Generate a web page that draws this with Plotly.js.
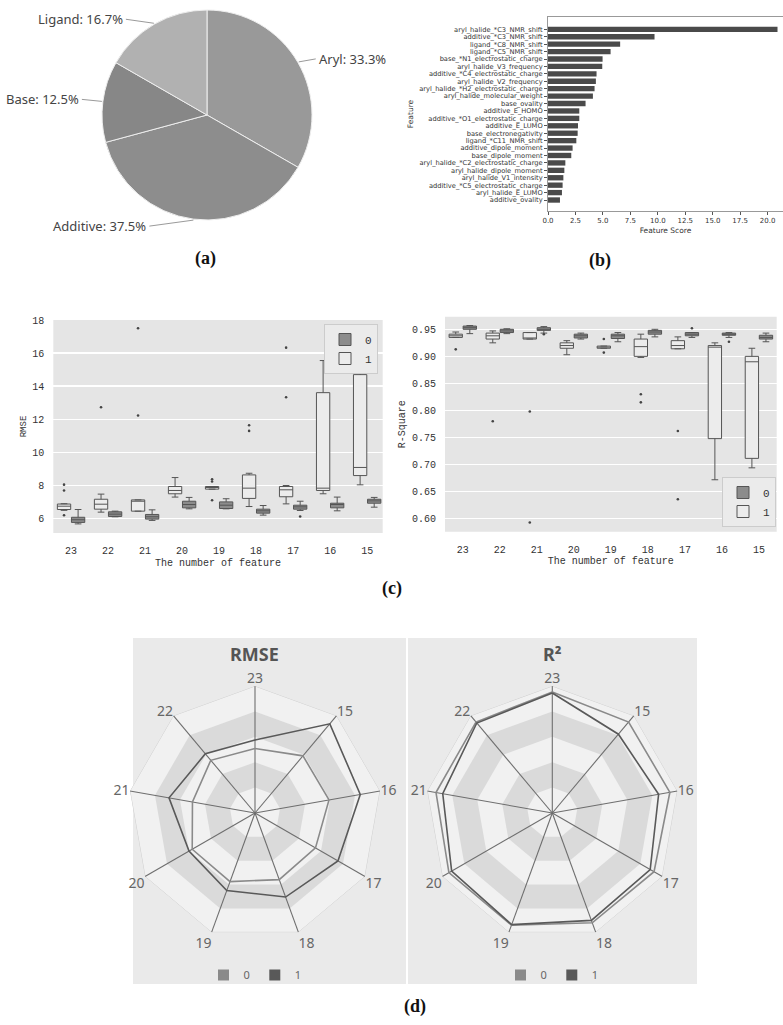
<!DOCTYPE html>
<html><head><meta charset="utf-8">
<script src="https://cdn.plot.ly/plotly-3.0.1.min.js"></script>
<style>html,body{margin:0;padding:0;background:#fff}#chart{width:783px;height:1025px}</style>
</head><body><div id="chart"></div>
<script>
// ---------------- DATA ----------------
const pieLabels = ['Aryl', 'Additive', 'Base', 'Ligand'];
const pieValues = [33.3, 37.5, 12.5, 16.7];

const barFeatures = [
  'aryl_halide_*C3_NMR_shift', 'additive_*C3_NMR_shift', 'ligand_*C8_NMR_shift', 'ligand_*C5_NMR_shift',
  'base_*N1_electrostatic_charge', 'aryl_halide_V3_frequency', 'additive_*C4_electrostatic_charge',
  'aryl_halide_V2_frequency', 'aryl_halide_*H2_electrostatic_charge', 'aryl_halide_molecular_weight',
  'base_ovality', 'additive_E_HOMO', 'additive_*O1_electrostatic_charge', 'additive_E_LUMO',
  'base_electronegativity', 'ligand_*C11_NMR_shift', 'additive_dipole_moment', 'base_dipole_moment',
  'aryl_halide_*C2_electrostatic_charge', 'aryl_halide_dipole_moment', 'aryl_halide_V1_intensity',
  'additive_*C5_electrostatic_charge', 'aryl_halide_E_LUMO', 'additive_ovality'
];
const barScores = [20.9, 9.7, 6.57, 5.7, 4.97, 4.94, 4.42, 4.36, 4.24, 4.09, 3.42, 2.85, 2.85, 2.73,
  2.7, 2.58, 2.24, 2.12, 1.58, 1.49, 1.4, 1.33, 1.27, 1.09];

const featureCounts = ['23', '22', '21', '20', '19', '18', '17', '16', '15'];
const seriesNames = ['0', '1'];

// RMSE box statistics, series "1"
const rmse1Q1  = [6.55, 6.57, 6.45, 7.50, 7.78, 7.22, 7.32, 7.70, 8.60];
const rmse1Med = [6.75, 6.87, 7.05, 7.70, 7.88, 7.84, 7.74, 7.84, 9.09];
const rmse1Q3  = [6.88, 7.17, 7.13, 7.94, 7.94, 8.64, 7.94, 13.61, 14.70];
const rmse1Lo  = [6.50, 6.39, 6.45, 7.30, 7.78, 6.73, 6.89, 7.50, 8.04];
const rmse1Hi  = [6.90, 7.48, 7.13, 8.48, 7.94, 8.74, 8.00, 15.55, 15.06];
const rmse1Out = [[8.05, 7.7, 6.2], [12.73], [17.5, 12.23], [], [8.38, 8.24, 7.11], [11.64, 11.3], [16.33, 13.33], [], []];
// RMSE box statistics, series "0"
const rmse0Q1  = [5.77, 6.13, 5.97, 6.65, 6.61, 6.33, 6.57, 6.65, 6.93];
const rmse0Med = [5.93, 6.27, 6.11, 6.85, 6.81, 6.47, 6.71, 6.85, 7.07];
const rmse0Q3  = [6.08, 6.41, 6.25, 7.05, 7.01, 6.57, 6.81, 6.93, 7.17];
const rmse0Lo  = [5.68, 6.11, 5.89, 6.59, 6.59, 6.21, 6.49, 6.47, 6.69];
const rmse0Hi  = [6.55, 6.45, 6.53, 7.28, 7.20, 6.79, 7.05, 7.30, 7.28];
const rmse0Out = [[], [], [], [], [], [], [6.13], [], []];

// R-square box statistics, series "1"
const r21Q1  = [0.935, 0.932, 0.932, 0.915, 0.915, 0.900, 0.914, 0.748, 0.7115];
const r21Med = [0.938, 0.938, 0.934, 0.920, 0.917, 0.918, 0.920, 0.917, 0.890];
const r21Q3  = [0.941, 0.943, 0.944, 0.925, 0.919, 0.932, 0.929, 0.920, 0.900];
const r21Lo  = [0.935, 0.925, 0.932, 0.903, 0.915, 0.898, 0.914, 0.672, 0.694];
const r21Hi  = [0.945, 0.947, 0.944, 0.929, 0.919, 0.941, 0.936, 0.925, 0.915];
const r21Out = [[0.913], [0.78], [0.798, 0.593], [], [0.932, 0.907], [0.83, 0.815], [0.762, 0.636], [], []];
// R-square box statistics, series "0"
const r20Q1  = [0.950, 0.944, 0.948, 0.934, 0.933, 0.941, 0.938, 0.939, 0.932];
const r20Med = [0.953, 0.947, 0.950, 0.938, 0.938, 0.945, 0.941, 0.940, 0.935];
const r20Q3  = [0.956, 0.950, 0.953, 0.941, 0.941, 0.948, 0.944, 0.943, 0.939];
const r20Lo  = [0.942, 0.942, 0.943, 0.932, 0.927, 0.936, 0.935, 0.935, 0.927];
const r20Hi  = [0.957, 0.951, 0.955, 0.943, 0.944, 0.950, 0.944, 0.944, 0.943];
const r20Out = [[], [], [0.941], [], [], [], [0.952], [0.927], []];

// Radar data
const radarCats = ['23', '15', '16', '17', '18', '19', '20', '21', '22'];
const rmseRadar0 = [6.1, 7.05, 7.1, 6.6, 6.7, 6.9, 6.85, 6.0, 6.5];
const rmseRadar1 = [6.9, 11.0, 10.1, 9.05, 8.45, 7.8, 7.2, 8.25, 7.3];
const r2Radar0 = [0.953, 0.935, 0.94, 0.925, 0.92, 0.94, 0.94, 0.93, 0.935];
const r2Radar1 = [0.945, 0.81, 0.85, 0.89, 0.90, 0.935, 0.915, 0.876, 0.925];
const rmseRadarMax = 12;
const r2RadarMax = 1;

// ---------------- LAYOUT HELPERS ----------------
const W = 783, H = 1025;
const px = x => x / W, py = y => 1 - y / H;
const mono = 'Liberation Mono, DejaVu Sans Mono, monospace';
const sans = 'Noto Sans, Open Sans, DejaVu Sans, sans-serif';
const serif = 'Liberation Serif, DejaVu Serif, serif';

const traces = [];
const shapes = [];
const annotations = [];

// ---------------- (a) PIE ----------------
const pieColors = ['#999999', '#8d8d8d', '#878787', '#b1b1b1'];
const pieCx = 207, pieCy = 115, pieR = 105;
traces.push({
  type: 'pie', labels: pieLabels, values: pieValues, sort: false, direction: 'clockwise', rotation: 0,
  textinfo: 'none', hoverinfo: 'label+percent', showlegend: false,
  marker: {colors: pieColors, line: {color: '#eeeeee', width: 1}},
  domain: {x: [px(pieCx - pieR), px(pieCx + pieR)], y: [py(pieCy + pieR), py(pieCy - pieR)]}
});
const leaderOffsets = [[17, -3], [-44, 6], [-20, -2], [-28, -4]];
const pieTotal = pieValues.reduce((a, b) => a + b, 0);
let cum = 0;
pieValues.forEach((v, i) => {
  const a = (cum + v / 2) / pieTotal * 2 * Math.PI;
  cum += v;
  const ex = pieCx + (pieR + 1) * Math.sin(a), ey = pieCy - (pieR + 1) * Math.cos(a);
  const [dx, dy] = leaderOffsets[i];
  const tx = ex + dx, ty = ey + dy;
  shapes.push({type: 'line', xref: 'paper', yref: 'paper', x0: px(ex), y0: py(ey), x1: px(tx), y1: py(ty),
    line: {color: '#9a9a9a', width: 1}});
  annotations.push({xref: 'paper', yref: 'paper', x: px(tx + (dx > 0 ? 1 : -1)), y: py(ty), showarrow: false,
    xanchor: dx > 0 ? 'left' : 'right', yanchor: 'middle',
    text: pieLabels[i] + ': ' + (v / pieTotal * 100).toFixed(1) + '%',
    font: {family: sans, size: 13, color: '#444'}});
});

// ---------------- (b) BAR ----------------
traces.push({
  type: 'bar', orientation: 'h', x: barScores, y: barFeatures, xaxis: 'x', yaxis: 'y',
  marker: {color: '#4a4a4a'}, width: 0.72, showlegend: false
});

// ---------------- (c) BOXES ----------------
const boxFill = {'0': '#8c8c8c', '1': '#ececec'};
function addBoxes(xa, ya, offset, q1, med, q3, lo, hi, outs, name, legend) {
  const xs = featureCounts.map((_, i) => i + offset);
  traces.push({
    type: 'box', x: xs, q1: q1, median: med, q3: q3, lowerfence: lo, upperfence: hi,
    width: 0.36, whiskerwidth: 0.5, boxpoints: false, name: name, legend: legend,
    legendrank: name === '0' ? 1 : 2, fillcolor: boxFill[name], line: {color: '#555', width: 1},
    xaxis: xa, yaxis: ya, hoverinfo: 'y'
  });
  const ox = [], oy = [];
  outs.forEach((arr, i) => arr.forEach(v => { ox.push(i + offset); oy.push(v); }));
  traces.push({type: 'scatter', mode: 'markers', x: ox, y: oy, xaxis: xa, yaxis: ya, showlegend: false,
    marker: {size: 2.6, color: '#444'}, hoverinfo: 'y'});
}
addBoxes('x2', 'y2', -0.19, rmse1Q1, rmse1Med, rmse1Q3, rmse1Lo, rmse1Hi, rmse1Out, '1', 'legend');
addBoxes('x2', 'y2', 0.19, rmse0Q1, rmse0Med, rmse0Q3, rmse0Lo, rmse0Hi, rmse0Out, '0', 'legend');
addBoxes('x3', 'y3', -0.19, r21Q1, r21Med, r21Q3, r21Lo, r21Hi, r21Out, '1', 'legend2');
addBoxes('x3', 'y3', 0.19, r20Q1, r20Med, r20Q3, r20Lo, r20Hi, r20Out, '0', 'legend2');

['x2', 'x3'].forEach((xa, k) => {
  shapes.push({type: 'rect', xref: xa + ' domain', yref: (k ? 'y3' : 'y2') + ' domain', x0: 0, x1: 1, y0: 0, y1: 1,
    fillcolor: '#e5e5e5', line: {width: 0}, layer: 'below'});
});

// ---------------- (d) RADARS ----------------
const radarColors = {'0': '#8a8a8a', '1': '#595959'};
const closeArr = a => a.concat([a[0]]);
function addRadar(subplot, maxV, s0, s1, legend) {
  const levels = [1, 0.8, 0.6, 0.4, 0.2];
  const bandColors = ['#f1f1f1', '#dadada', '#f1f1f1', '#dadada', '#f1f1f1'];
  levels.forEach((lv, j) => {
    traces.push({type: 'scatterpolar', subplot: subplot, mode: 'lines', fill: 'toself',
      theta: closeArr(radarCats), r: closeArr(radarCats.map(() => lv * maxV)),
      fillcolor: bandColors[j], line: {color: j === 0 ? '#cfcfcf' : bandColors[j], width: j === 0 ? 1 : 0},
      showlegend: false, hoverinfo: 'skip'});
  });
  const st = [], sr = [];
  radarCats.forEach(c => { st.push(c, c, null); sr.push(0, maxV, null); });
  traces.push({type: 'scatterpolar', subplot: subplot, mode: 'lines', theta: st, r: sr, connectgaps: false,
    line: {color: '#6e6e6e', width: 1.1}, showlegend: false, hoverinfo: 'skip'});
  [[s0, '0'], [s1, '1']].forEach(([s, nm]) => {
    traces.push({type: 'scatterpolar', subplot: subplot, mode: 'lines', theta: closeArr(radarCats), r: closeArr(s),
      line: {color: radarColors[nm], width: 1.6}, name: nm, showlegend: false});
  });
  seriesNames.forEach(nm => {
    traces.push({type: 'scatterpolar', subplot: subplot, mode: 'markers', theta: [radarCats[0]], r: [null],
      name: nm, legend: legend, marker: {symbol: 'square', size: 11, color: radarColors[nm]}, hoverinfo: 'skip'});
  });
}
addRadar('polar', rmseRadarMax, rmseRadar0, rmseRadar1, 'legend3');
addRadar('polar2', r2RadarMax, r2Radar0, r2Radar1, 'legend4');

shapes.push({type: 'rect', xref: 'paper', yref: 'paper', x0: px(133), x1: px(406), y0: py(984), y1: py(638),
  fillcolor: '#eaeaea', line: {width: 0}, layer: 'below'});
shapes.push({type: 'rect', xref: 'paper', yref: 'paper', x0: px(408), x1: px(697), y0: py(984), y1: py(638),
  fillcolor: '#eaeaea', line: {width: 0}, layer: 'below'});

function polarCfg(cx, cy, r, maxV) {
  return {
    domain: {x: [px(cx - r), px(cx + r)], y: [py(cy + r), py(cy - r)]},
    bgcolor: 'rgba(0,0,0,0)', gridshape: 'linear',
    angularaxis: {type: 'category', categoryorder: 'array', categoryarray: radarCats, direction: 'clockwise',
      rotation: 90, showgrid: false, showline: false, ticks: '',
      tickfont: {family: sans, size: 14, color: '#666'}},
    radialaxis: {range: [0, maxV], visible: false, showgrid: false}
  };
}

[['(a)', 205, 258], ['(b)', 600, 260], ['(c)', 392, 588], ['(d)', 415, 1006]].forEach(([t, x, y]) => {
  annotations.push({xref: 'paper', yref: 'paper', x: px(x), y: py(y), text: '<b>' + t + '</b>', showarrow: false,
    xanchor: 'center', yanchor: 'middle', font: {family: serif, size: 18, color: '#111'}});
});
[['<b>RMSE</b>', 255, 654], ['<b>R²</b>', 552, 654]].forEach(([t, x, y]) => {
  annotations.push({xref: 'paper', yref: 'paper', x: px(x), y: py(y), text: t, showarrow: false,
    xanchor: 'center', yanchor: 'middle', font: {family: sans, size: 18, color: '#555'}});
});

const monoFont = {family: mono, size: 10, color: '#333'};
const barFont = {family: 'DejaVu Sans, sans-serif', size: 6.7, color: '#333'};
const idx = featureCounts.map((_, i) => i);
const layout = {
  width: W, height: H, margin: {l: 0, r: 0, t: 0, b: 0}, paper_bgcolor: '#fff', plot_bgcolor: 'rgba(0,0,0,0)',
  font: {family: 'DejaVu Sans, sans-serif', color: '#333'}, boxmode: 'overlay',
  xaxis: {domain: [px(548), 1], anchor: 'y', range: [0, 21.4], tick0: 0, dtick: 2.5, tickformat: '.1f',
    ticks: 'outside', ticklen: 3, tickcolor: '#555', showline: true, linecolor: '#999', mirror: true,
    showgrid: false, zeroline: false, tickfont: {family: 'DejaVu Sans, sans-serif', size: 7, color: '#333'},
    title: {text: 'Feature Score', font: {size: 7.5, color: '#333'}, standoff: 3}},
  yaxis: {domain: [py(211), py(17)], anchor: 'x', type: 'category', categoryorder: 'array', categoryarray: barFeatures,
    tickmode: 'array', tickvals: barFeatures, ticktext: barFeatures,
    range: [24.48, -1.66], ticks: 'outside', ticklen: 3, tickcolor: '#555', showline: true, linecolor: '#999',
    showgrid: false, zeroline: false, tickfont: barFont,
    title: {text: 'Feature', font: {size: 7.5, color: '#333'}, standoff: 4}},
  xaxis2: {domain: [px(53.3), px(382.7)], anchor: 'y2', range: [-0.48, 8.42], tickvals: idx, ticktext: featureCounts,
    ticks: 'outside', ticklen: 8, tickcolor: 'rgba(0,0,0,0)', showgrid: false, zeroline: false, showline: false,
    tickfont: monoFont, title: {text: 'The number of feature', font: monoFont, standoff: 2}},
  yaxis2: {domain: [py(533), py(320)], anchor: 'x2', range: [5.13, 18], tick0: 0, dtick: 2, gridcolor: '#fff',
    gridwidth: 1.5, zeroline: false, ticks: 'outside', ticklen: 6, tickcolor: 'rgba(0,0,0,0)', tickfont: monoFont,
    title: {text: 'RMSE', font: {family: mono, size: 9, color: '#333'}, standoff: 4}},
  xaxis3: {domain: [px(445), px(776.7)], anchor: 'y3', range: [-0.48, 8.48], tickvals: idx, ticktext: featureCounts,
    ticks: 'outside', ticklen: 8, tickcolor: 'rgba(0,0,0,0)', showgrid: false, zeroline: false, showline: false,
    tickfont: monoFont, title: {text: 'The number of feature', font: monoFont, standoff: 2}},
  yaxis3: {domain: [py(531.7), py(316.7)], anchor: 'x3', range: [0.576, 0.9733], tick0: 0, dtick: 0.05,
    tickformat: '.2f', gridcolor: '#fff', gridwidth: 1.5, zeroline: false, ticks: 'outside', ticklen: 6,
    tickcolor: 'rgba(0,0,0,0)', tickfont: monoFont,
    title: {text: 'R-Square', font: {family: mono, size: 10, color: '#333'}, standoff: 4}},
  polar: polarCfg(255, 813, 127, rmseRadarMax),
  polar2: polarCfg(552.3, 813, 127, r2RadarMax),
  legend: {x: px(378), y: py(324), xanchor: 'right', yanchor: 'top', bgcolor: '#ebebeb', bordercolor: '#cccccc',
    borderwidth: 1, font: {family: mono, size: 11, color: '#333'}, itemwidth: 30, tracegroupgap: 2},
  legend2: {x: px(776), y: py(527), xanchor: 'right', yanchor: 'bottom', bgcolor: '#ebebeb', bordercolor: '#cccccc',
    borderwidth: 1, font: {family: mono, size: 11, color: '#333'}, itemwidth: 30, tracegroupgap: 2},
  legend3: {x: px(255), y: py(975), xanchor: 'center', yanchor: 'middle', orientation: 'h', bgcolor: 'rgba(0,0,0,0)',
    font: {family: sans, size: 11, color: '#666'}, itemwidth: 30},
  legend4: {x: px(552), y: py(975), xanchor: 'center', yanchor: 'middle', orientation: 'h', bgcolor: 'rgba(0,0,0,0)',
    font: {family: sans, size: 11, color: '#666'}, itemwidth: 30},
  shapes: shapes, annotations: annotations
};

Plotly.newPlot('chart', traces, layout, {displayModeBar: false, staticPlot: true});
</script></body></html>
